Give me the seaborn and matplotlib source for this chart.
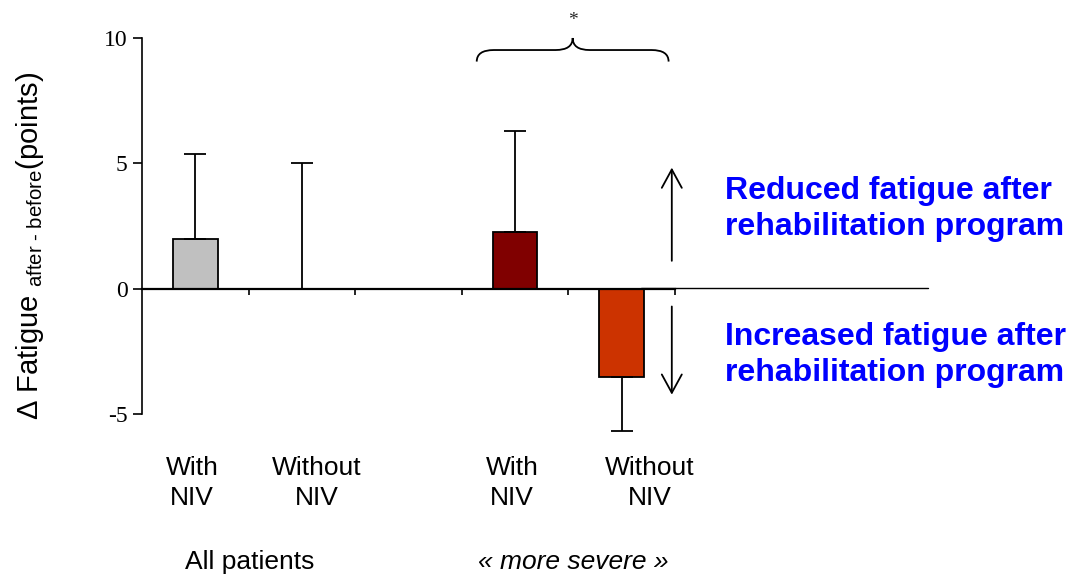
import matplotlib
matplotlib.use("Agg")
import matplotlib.pyplot as plt
from matplotlib.path import Path
from matplotlib.patches import PathPatch
import seaborn as sns
import pandas as pd
import numpy as np

# ---- data ----
slots = ["all_with", "all_without", "gap", "sev_with", "sev_without"]
bar_slots = ["all_with", "all_without", "sev_with", "sev_without"]
means = [2.0, 0.0, 2.28, -3.53]
err_upper = [3.39, 5.0, 4.02, 0.0]
err_lower = [0.0, 0.0, 0.0, 2.16]
bar_colors = ["#C0C0C0", "#FFFFFF", "#800000", "#CC3300"]
cat_labels = ["With\nNIV", "Without\nNIV", "With\nNIV", "Without\nNIV"]
cat_label_x = [-0.03, 1.14, 2.97, 4.26]
group_labels = ["All patients", "« more severe »"]
group_label_x = [0.51, 3.55]
yticks = [-5, 0, 5, 10]

sns.set_theme(style="white")
plt.rcParams["font.family"] = ["Liberation Sans", "DejaVu Sans"]
plt.rcParams["mathtext.fontset"] = "custom"
plt.rcParams["mathtext.rm"] = "Liberation Sans"
plt.rcParams["mathtext.it"] = "Liberation Sans:italic"

df = pd.DataFrame({"slot": bar_slots, "value": means})

fig = plt.figure(figsize=(10.67, 5.74), dpi=100)
ax = fig.add_axes([142 / 1067, (574 - 414) / 574, (675 - 142) / 1067, (414 - 38) / 574])

sns.barplot(data=df, x="slot", y="value", hue="slot", order=slots,
            palette=dict(zip(bar_slots, bar_colors)), width=0.42,
            edgecolor="black", linewidth=1.3, legend=False, ax=ax, errorbar=None,
            saturation=1)

pos = [slots.index(s) for s in bar_slots]
eb = ax.errorbar(pos, means, yerr=[err_lower, err_upper], fmt="none",
                 ecolor="black", elinewidth=1.3, capsize=8, capthick=1.3, zorder=1)
for art in eb.lines[1] + eb.lines[2]:
    art.set_clip_on(False)

ax.set_xlim(-0.5, 4.5)
ax.set_ylim(-5, 10)
ax.set_yticks(yticks)
ax.set_yticklabels([str(v) for v in yticks], fontfamily="Liberation Serif", fontsize=17)
ax.set_xticks([0.5, 1.5, 2.5, 3.5, 4.5])
ax.set_xticklabels([])
ax.set_xlabel("")
ax.set_ylabel("")
ax.tick_params(axis="y", direction="out", length=6.5, width=1.2, pad=4, colors="black", left=True)
ax.tick_params(axis="x", direction="out", length=4, width=1.2, colors="black", bottom=True)
for s in ["top", "right"]:
    ax.spines[s].set_visible(False)
ax.spines["left"].set_color("black")
ax.spines["left"].set_linewidth(1.2)
ax.spines["bottom"].set_position(("data", 0))
ax.spines["bottom"].set_color("black")
ax.spines["bottom"].set_linewidth(1.6)

# thin extension of zero line
ax.plot([4.18, 6.87], [0.01, 0.01], color="black", lw=1.0, clip_on=False, zorder=0.5)

# arrows
astyle = "->,head_length=1.1,head_width=0.6"
ax.annotate("", xy=(4.47, 4.94), xytext=(4.47, 1.0),
            arrowprops=dict(arrowstyle=astyle, lw=1.3, color="black"), annotation_clip=False)
ax.annotate("", xy=(4.47, -4.34), xytext=(4.47, -0.6),
            arrowprops=dict(arrowstyle=astyle, lw=1.3, color="black"), annotation_clip=False)

# bracket
x0, x1, xm = 2.64, 4.44, 3.54
ye, ymid, yp = 9.06, 9.52, 10.0
d = 0.16
verts = [(x0, ye), (x0, ymid), (x0 + d, ymid), (xm - d, ymid), (xm, ymid), (xm, yp),
         (xm, ymid), (xm + d, ymid), (x1 - d, ymid), (x1, ymid), (x1, ye)]
codes = [Path.MOVETO, Path.CURVE3, Path.CURVE3, Path.LINETO, Path.CURVE3, Path.CURVE3,
         Path.CURVE3, Path.CURVE3, Path.LINETO, Path.CURVE3, Path.CURVE3]
ax.add_patch(PathPatch(Path(verts, codes), facecolor="none", edgecolor="black", lw=1.3, clip_on=False))
ax.text(xm, 10.7, "*", ha="center", va="center", fontsize=14, fontfamily="Liberation Serif", clip_on=False)

# category labels
for xl, lab in zip(cat_label_x, cat_labels):
    ax.text(xl, -7.75, lab, ha="center", va="center", fontsize=19, linespacing=1.3, color="black")
ax.text(group_label_x[0], -10.9, group_labels[0], ha="center", va="center", fontsize=19, color="black")
ax.text(group_label_x[1], -10.9, group_labels[1], ha="center", va="center", fontsize=19,
        style="italic", color="black")

# side annotations
fig.text(725 / 1067, 1 - 209 / 574, "Reduced fatigue after\nrehabilitation program", ha="left",
         va="center", fontsize=23, fontweight="bold", color="#0000FF", linespacing=1.22)
fig.text(725 / 1067, 1 - 355 / 574, "Increased fatigue after\nrehabilitation program", ha="left",
         va="center", fontsize=23, fontweight="bold", color="#0000FF", linespacing=1.22)

# y label
fig.text(30 / 1067, 1 - 246 / 574, r"Δ Fatigue $_{\text{after - before}}$(points)",
         rotation=90, ha="center", va="center", fontsize=21, color="black")

fig.savefig("out.png", dpi=100)
